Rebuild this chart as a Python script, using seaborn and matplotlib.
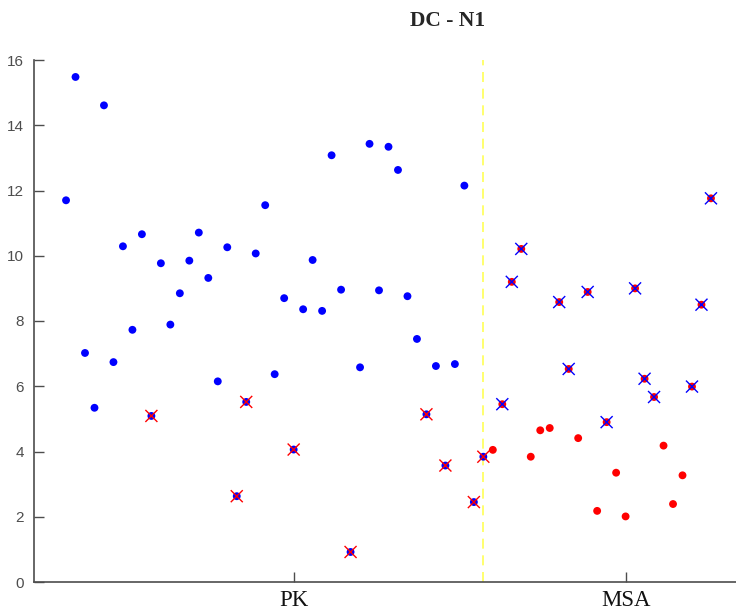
import matplotlib
matplotlib.use("Agg")
import matplotlib.pyplot as plt
import numpy as np
import pandas as pd
import seaborn as sns

# Per-subject scores, PK group followed by MSA group
pk_values = [11.70, 15.48, 7.02, 5.34, 14.61, 6.74, 10.29, 7.73, 10.66, 5.09,
             9.77, 7.89, 8.85, 9.85, 10.71, 9.32, 6.15, 10.26, 2.63, 5.52,
             10.07, 11.55, 6.37, 8.70, 4.06, 8.36, 9.87, 8.31, 13.08, 8.96,
             0.92, 6.58, 13.43, 8.94, 13.34, 12.63, 8.76, 7.45, 5.14, 6.62,
             3.57, 6.68, 12.15, 2.45, 3.84]
msa_values = [4.05, 5.45, 9.20, 10.21, 3.84, 4.65, 4.72, 8.58, 6.53, 4.41,
              8.89, 2.18, 4.90, 3.35, 2.01, 9.00, 6.23, 5.67, 4.18, 2.39,
              3.27, 5.99, 8.50, 11.76]
# Misclassified subjects (position within each group)
pk_misclassified = [9, 18, 19, 24, 30, 38, 40, 43, 44]
msa_misclassified = [1, 2, 3, 7, 8, 10, 12, 15, 16, 17, 21, 22, 23]
group_names = ["PK", "MSA"]
title_text = "DC - N1"

n_pk, n_msa = len(pk_values), len(msa_values)
df = pd.DataFrame({
    "subject": np.arange(1, n_pk + n_msa + 1),
    "value": pk_values + msa_values,
    "group": ["PK"] * n_pk + ["MSA"] * n_msa,
})
df["wrong"] = False
df.loc[pk_misclassified, "wrong"] = True
df.loc[[n_pk + i for i in msa_misclassified], "wrong"] = True
df["predicted"] = np.where(df["wrong"],
                           np.where(df["group"] == "PK", "MSA", "PK"),
                           df["group"])

sns.set_style("ticks", {"xtick.direction": "in", "ytick.direction": "in"})
plt.rcParams["xtick.direction"] = "in"
plt.rcParams["ytick.direction"] = "in"
plt.rcParams["xtick.major.size"] = 7
plt.rcParams["ytick.major.size"] = 7

W, H = 736, 610
fig = plt.figure(figsize=(W / 100, H / 100), dpi=100)
left_px, right_px, top_px, bottom_px = 33.5, 736, 60, 582
ax = fig.add_axes([left_px / W, (H - bottom_px) / H,
                   (right_px - left_px) / W, (bottom_px - top_px) / H])

palette = {"PK": "#0000ff", "MSA": "#ff0000"}
sns.scatterplot(data=df, x="subject", y="value", hue="group", palette=palette,
                s=32, edgecolor="none", legend=False, ax=ax, zorder=3)
sns.scatterplot(data=df[df["wrong"]], x="subject", y="value", hue="predicted",
                palette=palette, marker="x", s=75, linewidth=1.0,
                legend=False, ax=ax, zorder=4)

# Group boundary
ax.axvline(n_pk, color="#ffff55", linestyle=(0, (6, 4)), linewidth=1.2, zorder=2)

ax.set_xlim(-2.43, 71.64)
ax.set_ylim(0, 16)
ax.set_yticks(np.arange(0, 17, 2))
ax.set_xticks([25, 60])
ax.set_xticklabels(group_names, fontfamily="Liberation Serif", fontsize=16.5,
                   color="#111111")
ax.set_xlabel("")
ax.set_ylabel("")
for lbl in ax.get_yticklabels():
    lbl.set_fontfamily("Liberation Sans")
    lbl.set_fontsize(11)
    lbl.set_color("#4d4d4d")

ax.tick_params(axis="both", which="major", direction="in", length=7,
               width=1, color="#4d4d4d")
ax.tick_params(axis="y", pad=7)
ax.tick_params(axis="x", pad=6)
for side in ["top", "right"]:
    ax.spines[side].set_visible(False)
for side in ["left", "bottom"]:
    ax.spines[side].set_color("#4d4d4d")
    ax.spines[side].set_linewidth(1.2)

fig.text(448 / W, 1 - 21 / H, title_text, ha="center", va="center",
         fontfamily="Liberation Serif", fontweight="bold", fontsize=15.5)

fig.savefig("out.png", dpi=100)
